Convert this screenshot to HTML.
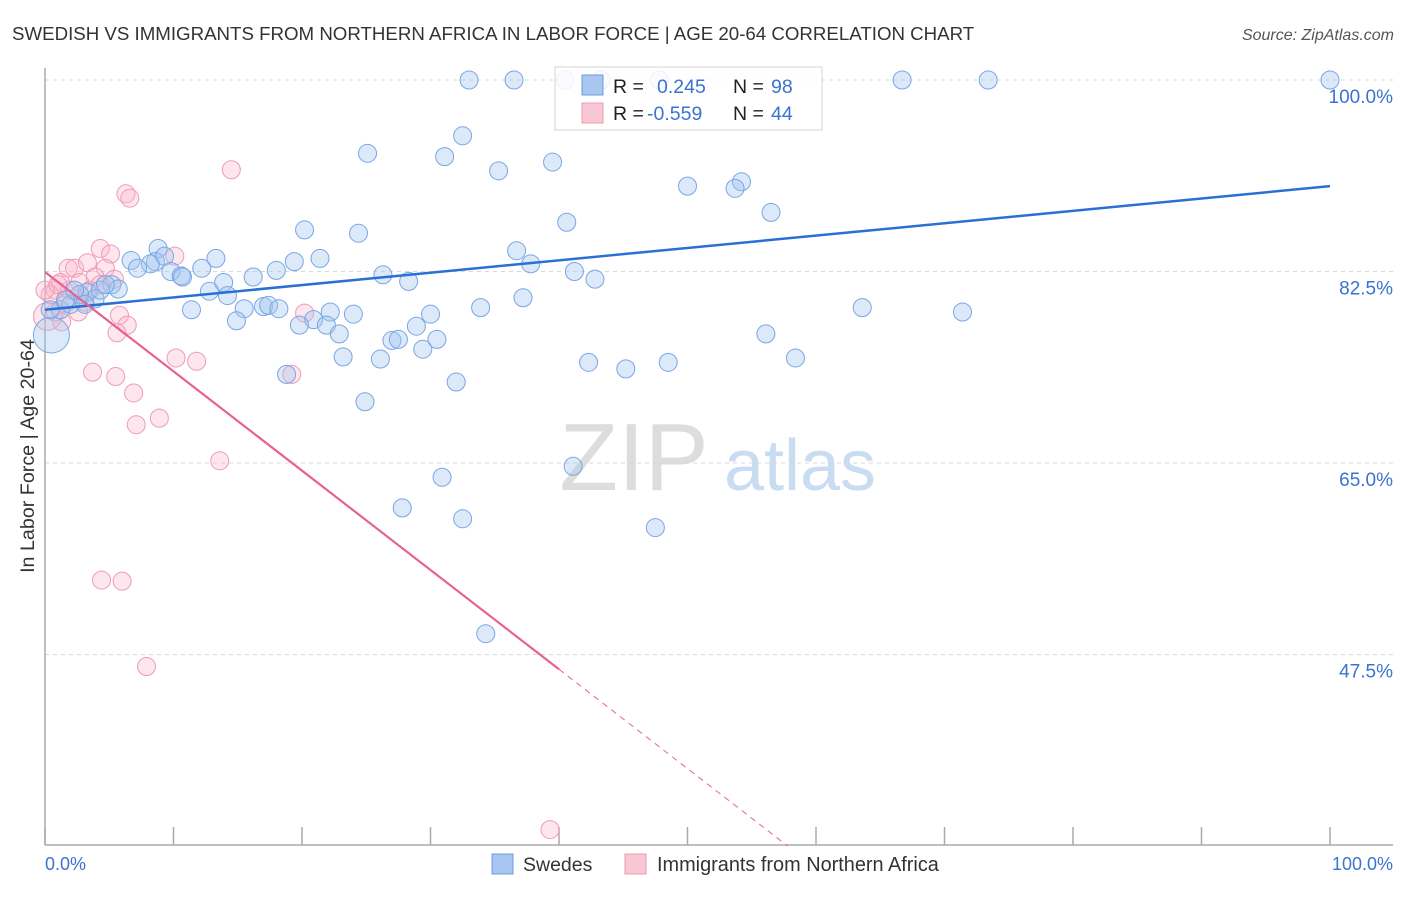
<!DOCTYPE html>
<html><head><meta charset="utf-8"><style>
body{margin:0;background:#fff;font-family:"Liberation Sans",sans-serif;}
svg text{font-family:"Liberation Sans",sans-serif;}
</style></head><body>
<svg id="chart" width="1406" height="892" viewBox="0 0 1406 892">
<text x="12" y="40" font-size="18.7" fill="#333">SWEDISH VS IMMIGRANTS FROM NORTHERN AFRICA IN LABOR FORCE | AGE 20-64 CORRELATION CHART</text>
<text x="1394" y="40" font-size="16" fill="#555" font-style="italic" text-anchor="end">Source: ZipAtlas.com</text>
<g>
<text x="634" y="490" font-size="96" fill="#ddd" font-family="Liberation Serif" text-anchor="middle">ZIP</text>
<text x="800" y="490" font-size="72" fill="#c9dcf2" text-anchor="middle">atlas</text>
</g>
<g id="grid"></g>
<g id="axes"></g>
<g id="pts"></g>
<g id="lines"></g>
<text transform="translate(34,456) rotate(-90)" font-size="19.7" fill="#333" text-anchor="middle">In Labor Force | Age 20-64</text>
<text x="45" y="870" font-size="18" fill="#3b73d1">0.0%</text>
<text x="1393" y="870" font-size="18" fill="#3b73d1" text-anchor="end">100.0%</text>
<g>
<rect x="555" y="67" width="267" height="63" fill="#fff" stroke="#ccc" opacity="0.85"/>
<rect x="582" y="75" width="21" height="20" fill="#a8c6f0" stroke="#6c9be0"/>
<rect x="582" y="103" width="21" height="20" fill="#f9c6d4" stroke="#ee9ab3"/>
<text x="613" y="93" font-size="19.5" fill="#222">R = </text><text x="657" y="93" font-size="19.5" fill="#3b73d1">0.245</text>
<text x="733" y="93" font-size="19.5" fill="#222">N = </text><text x="771" y="93" font-size="19.5" fill="#3b73d1">98</text>
<text x="613" y="120" font-size="19.5" fill="#222">R = </text><text x="647" y="120" font-size="19.5" fill="#3b73d1">-0.559</text>
<text x="733" y="120" font-size="19.5" fill="#222">N = </text><text x="771" y="120" font-size="19.5" fill="#3b73d1">44</text>
</g>
<g>
<rect x="492" y="854" width="21" height="20" fill="#a8c6f0" stroke="#6c9be0"/>
<text x="523" y="871" font-size="19.5" fill="#333">Swedes</text>
<rect x="625" y="854" width="21" height="20" fill="#f9c6d4" stroke="#ee9ab3"/>
<text x="657" y="871" font-size="19.9" fill="#333">Immigrants from Northern Africa</text>
</g>
</svg>
<script>
const yTicks=[100,82.5,65,47.5];
const yTickLabels=["100.0%","82.5%","65.0%","47.5%"];
const xTicks=[0,10,20,30,40,50,60,70,80,90,100];
const swedesX=[33,36.5,40.5,43.3,47.8,66.7,73.4,100,32.5,25.1,31.1,39.5,35.3,50,54.2,53.7,56.5,40.6,20.2,24.4,8.8,36.7,13.3,21.4,6.7,8.6,8.2,9.3,7.2,19.4,18,37.8,41.2,42.8,26.3,28.3,9.8,10.6,10.7,12.2,13.9,16.2,5.2,5.7,3.3,3.9,37.2,33.9,22.2,12.8,14.2,11.4,15.5,17,17.4,18.2,24,63.6,71.4,30,14.9,20.9,19.8,21.9,28.9,22.9,56.1,27,27.5,30.5,29.4,23.2,26.1,58.4,42.3,48.5,45.2,18.8,32,24.9,30.9,41.1,27.8,32.5,47.5,34.3,0.5,1.2,2,2.7,0.4,1.6,2.3,4.3,4.7,3.1];
const swedesY=[100,100,100,100,100,100,100,100,94.9,93.3,93,92.5,91.7,90.3,90.7,90.1,87.9,87,86.3,86,84.6,84.4,83.7,83.7,83.5,83.4,83.2,83.9,82.8,83.4,82.6,83.2,82.5,81.8,82.2,81.6,82.5,82.1,82,82.8,81.5,82,81.3,80.9,80.6,80,80.1,79.2,78.8,80.7,80.3,79,79.1,79.3,79.4,79.1,78.6,79.2,78.8,78.6,78,78.1,77.6,77.6,77.5,76.8,76.8,76.2,76.3,76.3,75.4,74.7,74.5,74.6,74.2,74.2,73.6,73.1,72.4,70.6,63.7,64.7,60.9,59.9,59.1,49.4,76.7,79,79.5,80.4,79,79.9,80.8,80.8,81.3,79.5];
const immX=[14.5,6.3,6.6,4.3,5.1,10.1,1.8,2.3,3.3,4.7,3.9,5.4,2.7,1.2,0.8,0.4,1.9,3.5,4.3,1.6,3.1,5.8,6.4,5.6,20.2,10.2,11.8,3.7,5.5,19.2,6.9,8.9,7.1,13.6,4.4,6,7.9,39.3,0.2,0.8,1.3,2.6,0,1];
const immY=[91.8,89.6,89.2,84.6,84.1,83.9,82.8,82.8,83.3,82.8,82,81.8,81.5,81.5,80.8,80.4,80.8,80.8,81.3,79.6,79.7,78.5,77.6,76.9,78.7,74.6,74.3,73.3,72.9,73.1,71.4,69.1,68.5,65.2,54.3,54.2,46.4,31.5,78.4,78.8,77.9,78.8,80.8,81.3];
const swedesTrend=[79.0,90.3];
const immTrend=[82.45,-8.3];
const NS="http://www.w3.org/2000/svg";
const X0=45,X1=1330,YT=80,YB=845;
function sx(v){return X0+(X1-X0)*v/100;}
function sy(v){return YT+(100-v)/17.5*191.5;}
function mk(tag,attrs,parent){const e=document.createElementNS(NS,tag);for(const k in attrs)e.setAttribute(k,attrs[k]);parent.appendChild(e);return e;}
const grid=document.getElementById('grid'),axes=document.getElementById('axes'),pts=document.getElementById('pts'),lines=document.getElementById('lines');
yTicks.forEach((t,i)=>{
 const l=mk('line',{x1:X0,x2:1393,y1:sy(t),y2:sy(t),stroke:'#d8d8d8','stroke-dasharray':'4,4'},grid);
 
 
 const tx=mk('text',{x:1393,y:sy(t)+23,'font-size':19,fill:'#3b73d1','text-anchor':'end'},grid);
 tx.textContent=yTickLabels[i];
 
 
});
const ya=mk('line',{x1:X0,x2:X0,y1:68,y2:YB,stroke:'#aaa','stroke-width':1.5},axes);


const xa=mk('line',{x1:X0,x2:1393,y1:YB,y2:YB,stroke:'#aaa','stroke-width':1.5},axes);


xTicks.forEach(t=>{
 const l=mk('line',{x1:sx(t),x2:sx(t),y1:827,y2:YB,stroke:'#aaa','stroke-width':1.5},axes);
 
 
});
function dot(x,y,r,fill,stroke,name){
 const c=mk('circle',{cx:sx(x),cy:sy(y),r:r,fill:fill,stroke:stroke,'stroke-width':1},pts);
 
 
}
immX.forEach((x,i)=>dot(x,immY[i],i==38?14:9,'rgba(248,182,202,0.35)','#f09ab6','immigrant-point'));
swedesX.forEach((x,i)=>dot(x,swedesY[i],i==86?18:9,'rgba(160,196,240,0.38)','#7aa6e6','swedes-point'));
const bl=mk('line',{x1:sx(0),y1:sy(swedesTrend[0]),x2:sx(100),y2:sy(swedesTrend[1])},lines);
bl.setAttribute('stroke','#2a6fd6');bl.setAttribute('stroke-width',2.5);


const slope=(immTrend[1]-immTrend[0])/100;
const pl=mk('line',{x1:sx(0),y1:sy(immTrend[0]),x2:sx(40),y2:sy(immTrend[0]+slope*40),stroke:'#e8628f','stroke-width':2.2},lines);


const xe=(30-immTrend[0])/slope;
const pd=mk('line',{x1:sx(40),y1:sy(immTrend[0]+slope*40),x2:sx(xe),y2:sy(30),stroke:'#e8628f','stroke-width':1,'stroke-dasharray':'6,5'},lines);


</script>
</body></html>
